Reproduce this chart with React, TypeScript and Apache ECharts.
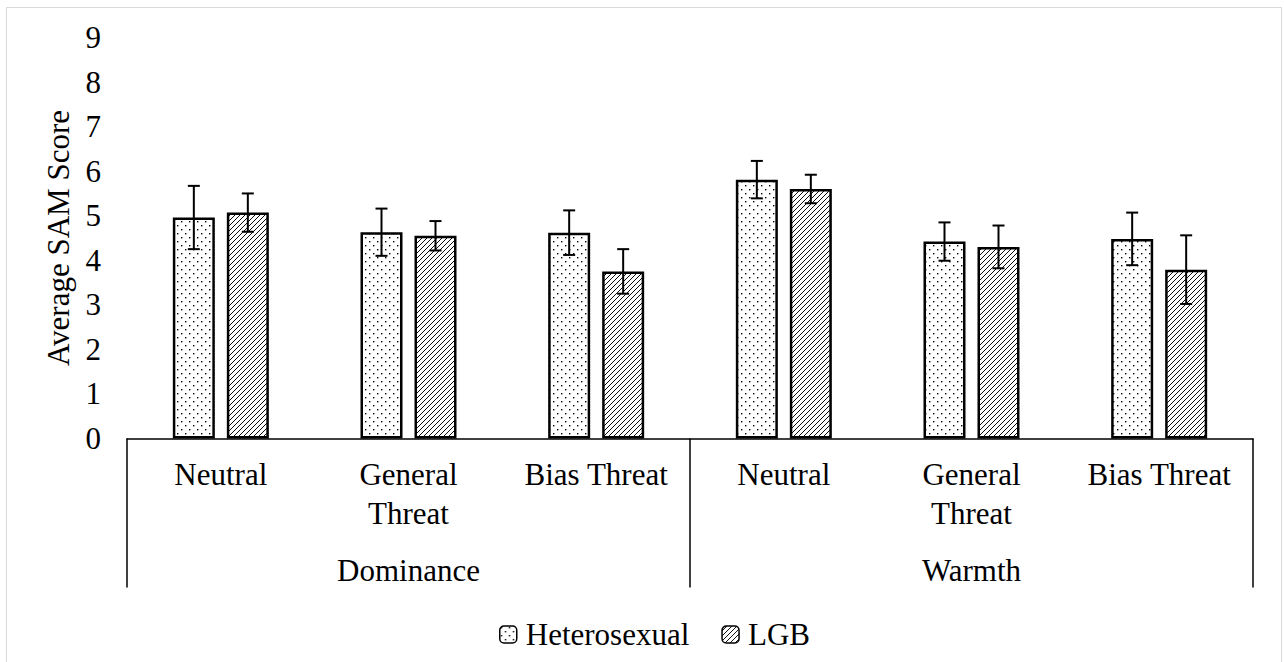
import React, { useEffect, useRef } from "react";
import * as echarts from "echarts";

const categories = ["Neutral", "General\nThreat", "Bias Threat", "Neutral", "General\nThreat", "Bias Threat"];
const groups = ["Dominance", "Warmth"];
const heteroMeans = [4.96, 4.63, 4.62, 5.81, 4.42, 4.48];
const heteroErrs = [0.71, 0.53, 0.5, 0.42, 0.43, 0.59];
const lgbMeans = [5.07, 4.55, 3.75, 5.6, 4.3, 3.79];
const lgbErrs = [0.43, 0.33, 0.5, 0.32, 0.48, 0.77];
const seriesNames = ["Heterosexual", "LGB"];

const FONT = "Liberation Serif";

const svgUrl = (s: string) => "data:image/svg+xml;charset=utf-8," + encodeURIComponent(s);

const dotsPattern = {
  image: svgUrl(
    "<svg xmlns='http://www.w3.org/2000/svg' width='8' height='8'><rect width='8' height='8' fill='white'/><rect x='1' y='1' width='1.4' height='1.4' fill='black'/><rect x='5' y='5' width='1.4' height='1.4' fill='black'/></svg>"
  ),
  repeat: "repeat",
  imageWidth: 8,
  imageHeight: 8,
};

const hatchPattern = {
  image: svgUrl(
    "<svg xmlns='http://www.w3.org/2000/svg' width='5' height='5'><rect width='5' height='5' fill='white'/><path d='M-1,1 L1,-1 M0,5 L5,0 M4,6 L6,4' stroke='black' stroke-width='0.95'/></svg>"
  ),
  repeat: "repeat",
  imageWidth: 5,
  imageHeight: 5,
};

function errorSeries(name: string, means: number[], errs: number[], offset: number) {
  return {
    type: "custom",
    name: name + " error",
    xAxisIndex: 0,
    yAxisIndex: 0,
    z: 10,
    silent: true,
    encode: { x: 0, y: [1, 2] },
    data: means.map((m, i) => [i, m - errs[i], m + errs[i]]),
    renderItem: (params: any, api: any) => {
      const idx = api.value(0);
      const lo = api.coord([idx, api.value(1)]);
      const hi = api.coord([idx, api.value(2)]);
      const cx = lo[0] + offset;
      const st = { stroke: "#000", lineWidth: 2 };
      return {
        type: "group",
        children: [
          { type: "line", shape: { x1: cx, y1: hi[1], x2: cx, y2: lo[1] }, style: st },
          { type: "line", shape: { x1: cx - 6, y1: hi[1], x2: cx + 6, y2: hi[1] }, style: st },
          { type: "line", shape: { x1: cx - 6, y1: lo[1], x2: cx + 6, y2: lo[1] }, style: st },
        ],
      };
    },
  };
}

export default function App() {
  const ref = useRef<HTMLDivElement>(null);
  useEffect(() => {
    if (!ref.current) return;
    const chart = echarts.init(ref.current, null, { renderer: "svg" });
    const option: any = {
      animation: false,
      backgroundColor: "#fff",
      textStyle: { fontFamily: FONT, color: "#000" },
      graphic: [
        {
          type: "rect",
          silent: true,
          z: -10,
          shape: { x: 6.5, y: 7.5, width: 1275, height: 700 },
          style: { fill: "none", stroke: "#d9d9d9", lineWidth: 1 },
        },
      ],
      grid: { left: 127, right: 31, top: 37.5, bottom: 223.5 },
      legend: {
        left: 494,
        top: 614,
        itemWidth: 17,
        itemHeight: 17,
        itemGap: 32,
        data: seriesNames,
        textStyle: { fontSize: 31, color: "#000", fontFamily: FONT, padding: [0, 0, 0, 4] },
        itemStyle: { borderColor: "#000", borderWidth: 1.5 },
      },
      xAxis: [
        {
          type: "category",
          data: categories,
          position: "bottom",
          axisLine: { lineStyle: { color: "#000", width: 1.5 } },
          axisTick: { show: false },
          axisLabel: { fontSize: 31, color: "#000", fontFamily: FONT, lineHeight: 39, margin: 16, interval: 0 },
        },
        {
          type: "category",
          data: groups,
          position: "bottom",
          axisLine: { show: false },
          axisTick: { show: true, length: 149, lineStyle: { color: "#000", width: 1.5 } },
          axisLabel: { fontSize: 31, color: "#000", fontFamily: FONT, lineHeight: 39, margin: 112 },
        },
      ],
      yAxis: {
        type: "value",
        min: 0,
        max: 9,
        interval: 1,
        axisLine: { show: false },
        axisTick: { show: false },
        splitLine: { show: false },
        axisLabel: { fontSize: 31, color: "#000", fontFamily: FONT, margin: 26 },
        name: "Average SAM Score",
        nameLocation: "middle",
        nameRotate: 90,
        nameGap: 53,
        nameTextStyle: { fontSize: 31, color: "#000", fontFamily: FONT },
      },
      series: [
        {
          type: "bar",
          name: seriesNames[0],
          data: heteroMeans,
          barWidth: 42,
          barGap: "28.57%",
          itemStyle: { color: dotsPattern, borderColor: "#000", borderWidth: 2.5 },
        },
        {
          type: "bar",
          name: seriesNames[1],
          data: lgbMeans,
          barWidth: 42,
          barGap: "28.57%",
          itemStyle: { color: hatchPattern, borderColor: "#000", borderWidth: 2.5 },
        },
        errorSeries(seriesNames[0], heteroMeans, heteroErrs, -27),
        errorSeries(seriesNames[1], lgbMeans, lgbErrs, 27),
      ],
    };
    chart.setOption(option);
    return () => chart.dispose();
  }, []);
  return <div ref={ref} style={{ position: "absolute", left: 0, top: 0, width: 1284, height: 662 }} />;
}
